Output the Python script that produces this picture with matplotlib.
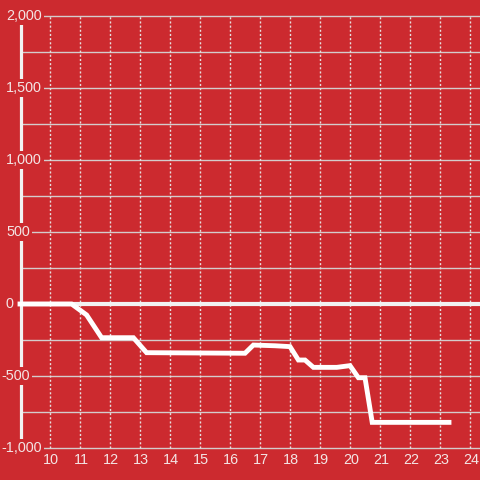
import numpy as np
import matplotlib.pyplot as plt

plt.rcParams['font.family'] = ['Liberation Sans', 'DejaVu Sans']

hours = [9.0, 10.72, 11.22, 11.72, 12.78, 13.22, 16.5, 16.78, 17.5, 18.0,
         18.28, 18.5, 18.78, 19.56, 20.0, 20.28, 20.5, 20.74, 23.3]
values = [0, 0, -76, -234, -234, -338, -342, -285, -290, -296,
          -389, -389, -440, -440, -428, -512, -512, -822, -822]

x_ticks = list(range(10, 25))
y_ticks = [-1000, -500, 0, 500, 1000, 1500, 2000]
y_labels = ['-1,000', '-500', '0', '500', '1,000', '1,500', '2,000']

bg = '#cc2a2f'
grid_c = '#d4cccc'
text_c = '#f3e4e4'

fig = plt.figure(figsize=(4.8, 4.8), dpi=100, facecolor=bg)
ax = fig.add_axes([0, 0, 1, 1], facecolor=bg)
x0, x1 = 10 - 50 / 30, 10 + 430 / 30
ax.set_xlim(x0, x1)
ax.set_ylim(-176 * 500 / 72, 304 * 500 / 72)
ax.axis('off')


def px(p):
    # pixel column -> data x
    return 10 + (p - 50) / 30


# horizontal grid every 250
ax.hlines(np.arange(-1000, 2001, 250), px(21), x1, color=grid_c, lw=1, zorder=1)
# dotted vertical grid
ax.vlines(x_ticks, -1000, 2000, color='#e6dede', lw=1,
          linestyles=(0, (1.5, 1.5)), zorder=1)
# y axis line
ax.vlines([px(21)], -1000, 2000, color='#f2f2f2', lw=2.3, zorder=2)
# zero line
ax.hlines([0], px(21), x1, color='#f2f2f2', lw=3, zorder=2)

ax.plot(hours, values, color='white', lw=3.5, solid_joinstyle='miter', zorder=3)

for v, lab in zip(y_ticks, y_labels):
    left = 1.5 if lab.startswith('-') else 6
    ax.text(px(left), v, lab, ha='left', va='center', color=text_c,
            fontsize=10.4, zorder=4,
            bbox=dict(facecolor=bg, edgecolor='none', pad=1.5))
for h in x_ticks:
    ax.text(h + 1 / 30, -1085, str(h), ha='center', va='center', color=text_c,
            fontsize=10.4, zorder=4)

plt.savefig('out.png', dpi=100, facecolor=bg)
plt.close()
